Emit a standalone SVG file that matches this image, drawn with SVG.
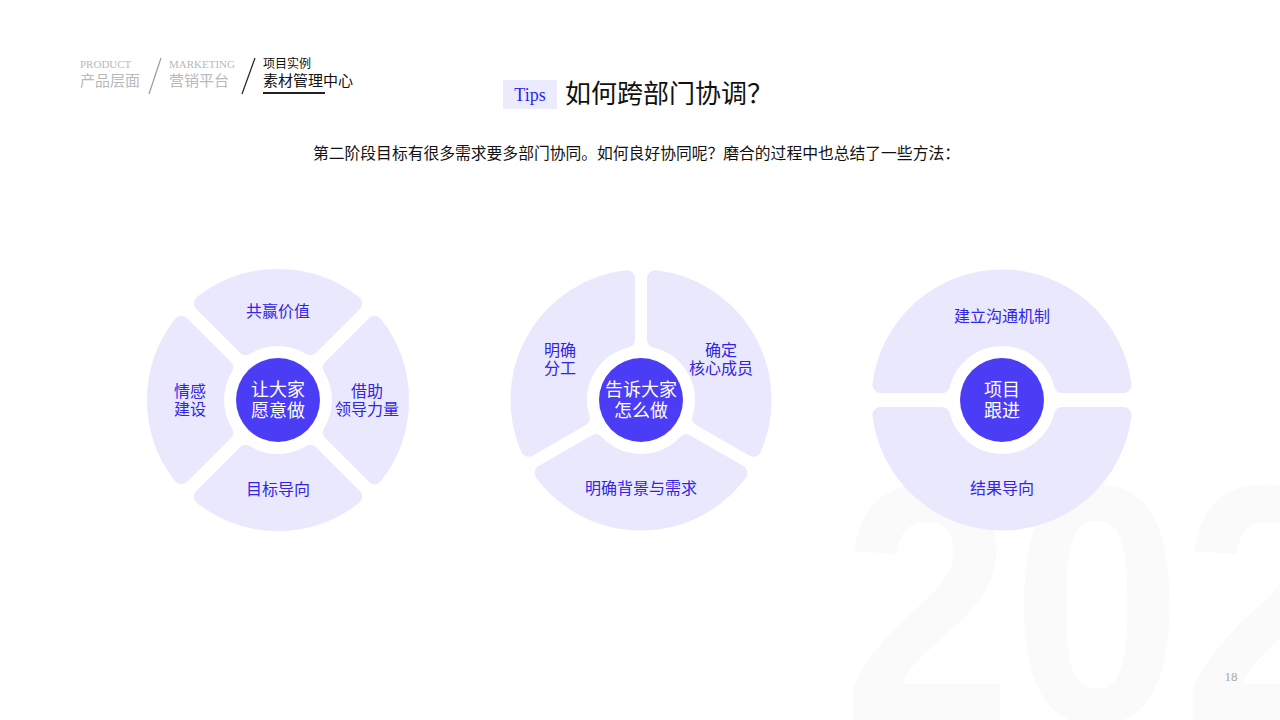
<svg xmlns="http://www.w3.org/2000/svg" xmlns:xlink="http://www.w3.org/1999/xlink" width="1280" height="720" viewBox="0 0 1280 720">
<style>
.seg{fill:#e9e8fd;stroke:#e9e8fd;stroke-width:16;stroke-linejoin:round}
.core{fill:#4b3cf6}
.lbl{font-family:"Liberation Serif","Noto Sans CJK SC",serif;font-size:16px;fill:#3324e6;text-anchor:middle}
.ctr{font-family:"Liberation Serif","Noto Sans CJK SC",serif;font-size:18px;fill:#ffffff;text-anchor:middle}
.gray{font-family:"Liberation Serif","Noto Sans CJK SC",serif;fill:#b9b9b9}
.dark{font-family:"Liberation Serif","Noto Sans CJK SC",serif;fill:#111111}
</style>
<defs>
<path id="seg4" d="M -76.12 -96.62 A 123 123 0 0 1 76.12 -96.62 L 32.37 -52.87 A 62 62 0 0 0 -32.37 -52.87 Z"/>
<path id="seg3" d="M 98.39 72.97 A 122.5 122.5 0 0 1 -98.39 72.97 L -45.31 42.32 A 62 62 0 0 0 45.31 42.32 Z"/>
<path id="seg2" d="M -121.58 -15 A 122.5 122.5 0 0 1 121.58 -15 L 60.16 -15 A 62 62 0 0 0 -60.16 -15 Z"/>
</defs>
<rect width="1280" height="720" fill="#ffffff"/>
<text x="842" y="722" font-family="Liberation Sans, sans-serif" font-weight="bold" font-size="340" fill="#fafafb" textLength="510" lengthAdjust="spacingAndGlyphs">202</text>

<g id="header">
<text class="gray" x="80" y="68" font-size="11">PRODUCT</text>
<text class="gray" x="80" y="86" font-size="15">产品层面</text>
<line x1="149" y1="94" x2="161" y2="58" stroke="#9a9a9a" stroke-width="1.2"/>
<text class="gray" x="169" y="68" font-size="11">MARKETING</text>
<text class="gray" x="169" y="86" font-size="15">营销平台</text>
<line x1="242" y1="94" x2="255" y2="58" stroke="#222" stroke-width="1.2"/>
<text class="dark" x="263" y="68" font-size="12">项目实例</text>
<text class="dark" x="263" y="86" font-size="15">素材管理中心</text>
<line x1="263" y1="93" x2="325" y2="93" stroke="#222" stroke-width="2"/>
</g>

<g id="title">
<rect x="503" y="80" width="54" height="29" fill="#ecebfd"/>
<text x="530" y="101" font-family="Liberation Serif, serif" font-size="18" fill="#2a1ff0" text-anchor="middle">Tips</text>
<text class="dark" x="565" y="103" font-size="26">如何跨部门协调？</text>
<text class="dark" x="313" y="159" font-size="16" textLength="647" lengthAdjust="spacingAndGlyphs">第二阶段目标有很多需求要多部门协同。如何良好协同呢？磨合的过程中也总结了一些方法：</text>
</g>

<g id="diagram1" transform="translate(278,400)">
<use xlink:href="#seg4" class="seg"/>
<use xlink:href="#seg4" class="seg" transform="rotate(90)"/>
<use xlink:href="#seg4" class="seg" transform="rotate(180)"/>
<use xlink:href="#seg4" class="seg" transform="rotate(270)"/>
<circle class="core" r="42"/>
<text class="ctr" x="0" y="-4">让大家</text>
<text class="ctr" x="0" y="17">愿意做</text>
<text class="lbl" x="0" y="-83">共赢价值</text>
<text class="lbl" x="-88" y="-3">情感</text>
<text class="lbl" x="-88" y="15">建设</text>
<text class="lbl" x="89" y="-3">借助</text>
<text class="lbl" x="89" y="15">领导力量</text>
<text class="lbl" x="0" y="95">目标导向</text>
</g>

<g id="diagram2" transform="translate(641,400)">
<use xlink:href="#seg3" class="seg"/>
<use xlink:href="#seg3" class="seg" transform="rotate(120)"/>
<use xlink:href="#seg3" class="seg" transform="rotate(240)"/>
<circle class="core" r="42"/>
<text class="ctr" x="0" y="-4">告诉大家</text>
<text class="ctr" x="0" y="17">怎么做</text>
<text class="lbl" x="-81" y="-44">明确</text>
<text class="lbl" x="-81" y="-26">分工</text>
<text class="lbl" x="80" y="-44">确定</text>
<text class="lbl" x="80" y="-26">核心成员</text>
<text class="lbl" x="0" y="94">明确背景与需求</text>
</g>

<g id="diagram3" transform="translate(1002,400)">
<use xlink:href="#seg2" class="seg"/>
<use xlink:href="#seg2" class="seg" transform="rotate(180)"/>
<circle class="core" r="42"/>
<text class="ctr" x="0" y="-4">项目</text>
<text class="ctr" x="0" y="17">跟进</text>
<text class="lbl" x="0" y="-78">建立沟通机制</text>
<text class="lbl" x="0" y="94">结果导向</text>
</g>

<text x="1231" y="681" font-family="Liberation Serif, serif" font-size="13" fill="#a8a8a8" text-anchor="middle">18</text>
</svg>
